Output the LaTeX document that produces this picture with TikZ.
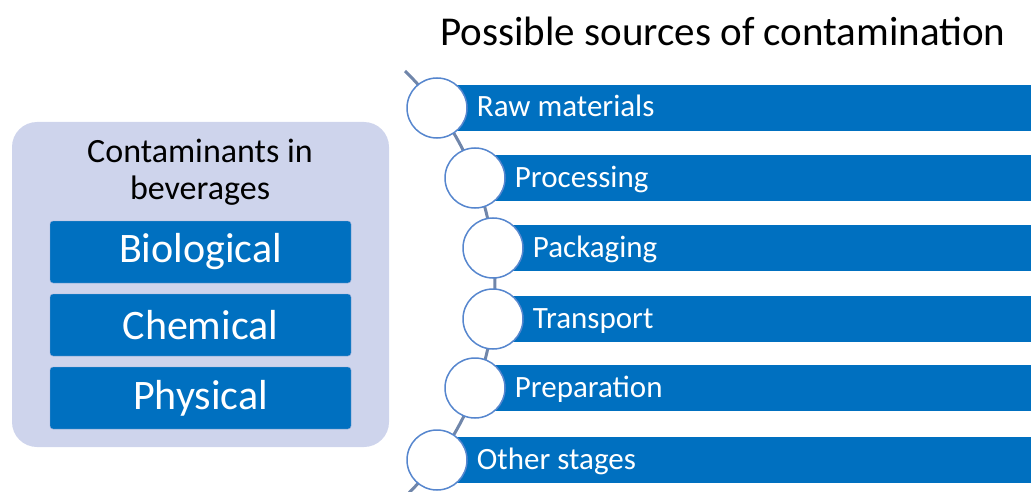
\documentclass[tikz,border=0pt]{standalone}
\usepackage{fontspec}
\setmainfont{Carlito}
\usetikzlibrary{positioning}
\definecolor{barblue}{RGB}{0,112,192}
\definecolor{lavender}{RGB}{206,212,236}
\definecolor{boxedge}{RGB}{150,170,215}
\definecolor{dotedge}{RGB}{86,134,206}
\definecolor{spinegray}{RGB}{112,134,170}
\tikzset{
    outerbox/.style = {rectangle, rounded corners=25pt, fill=lavender, minimum width=377pt, minimum height=325pt},
    typebox/.style = {rectangle, rounded corners=3pt, draw=boxedge, fill=barblue, minimum width=301pt, minimum height=62pt, text=white, font=\fontsize{42}{48}\selectfont},
    stagebar/.style = {rectangle, fill=barblue, minimum height=46pt, anchor=west, inner sep=0pt},
    stagedot/.style = {circle, draw=dotedge, line width=1.5pt, fill=white, minimum size=60pt, inner sep=0pt},
    stagetext/.style = {anchor=base west, text=white, font=\fontsize{31}{36}\selectfont, inner sep=0pt},
    spine/.style = {line width=3pt, draw=spinegray}
}
\begin{document}
\begin{tikzpicture}[x=1pt, y=-1pt]
  \useasboundingbox (0,0) rectangle (1031,492);
  \node[anchor=base, font=\fontsize{41}{48}\selectfont] (title) at (723,46) {Possible sources of contamination};

  % contaminant types
  \node[outerbox] (group) at (200.5,284.5) {};
  \node[align=center, font=\fontsize{34}{37}\selectfont] (grouptitle) at (200,172) {Contaminants in\\beverages};
  \node[typebox] (bio)  at (200.5,252) {Biological};
  \node[typebox] (chem) at (200.5,325) {Chemical};
  \node[typebox] (phys) at (200.5,398) {Physical};

  % stages along the arc
  \coordinate (spinetop) at (405,71);
  \draw[spine] (spinetop) arc[start angle=-45.8, end angle=47, radius=297];

  \foreach \x/\y/\n/\t in {437/108/raw/Raw materials, 475/178/proc/Processing, 493/248/pack/Packaging,
                           493/319/trans/Transport, 475/388/prep/Preparation, 437/460/other/Other stages}{
    \node[stagebar, minimum width={1040pt-\x pt}] (bar\n) at (\x,\y) {};
    \node[stagedot] (dot\n) at (\x,\y) {};
    \node[stagetext] (txt\n) at ([xshift=9pt, yshift=-9pt]dot\n.east) {\t};
  }
\end{tikzpicture}
\end{document}
